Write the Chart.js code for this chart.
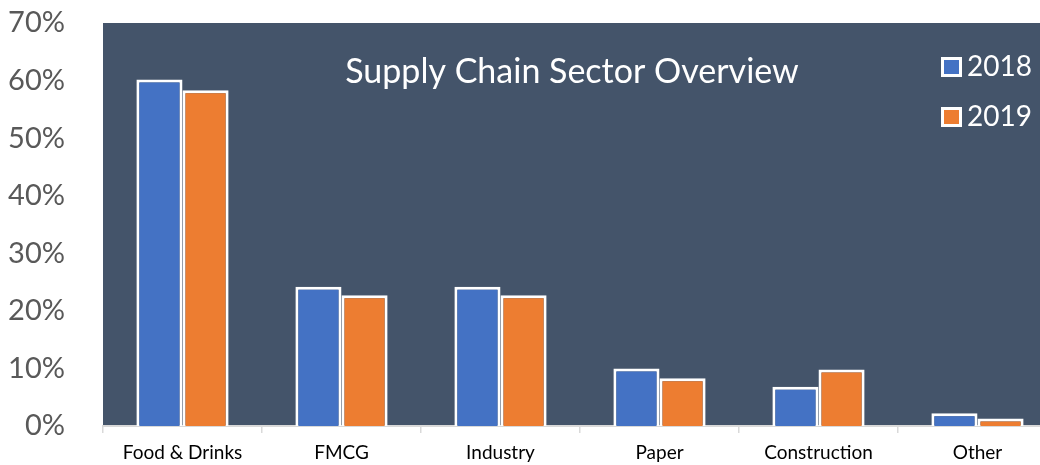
<!DOCTYPE html>
<html>
<head>
<meta charset="utf-8">
<title>Supply Chain Sector Overview</title>
<script src="https://cdn.jsdelivr.net/npm/chart.js@4.4.1/dist/chart.umd.min.js"></script>
<style>
  html, body { margin: 0; padding: 0; background: #ffffff; overflow: hidden; }
  #wrap { width: 1040px; height: 465px; overflow: hidden; }
</style>
</head>
<body>
<div id="wrap"><canvas id="chart" width="1057" height="465"></canvas></div>
<script>
// Chart data
const TITLE = 'Supply Chain Sector Overview';
const sectors = ['Food & Drinks', 'FMCG', 'Industry', 'Paper', 'Construction', 'Other'];
const share2018 = [60.2, 24.2, 24.2, 10.0, 6.8, 2.2];
const share2019 = [58.3, 22.7, 22.7, 8.3, 9.8, 1.3];
const yTicks = [0, 10, 20, 30, 40, 50, 60, 70];

const PLOT_BG = '#44546A';
const BLUE = '#4472C4';
const ORANGE = '#ED7D31';
const FONT = 'Lato';

// Fill the plot area and draw the in-plot title + legend
const plotDecor = {
  id: 'plotDecor',
  beforeDraw(c) {
    const { ctx, chartArea: a } = c;
    ctx.save();
    ctx.fillStyle = PLOT_BG;
    ctx.fillRect(a.left, a.top, a.right - a.left, a.bottom - a.top);
    ctx.restore();
  },
  afterDraw(c) {
    const { ctx } = c;
    ctx.save();
    ctx.fillStyle = '#ffffff';
    ctx.font = `34px ${FONT}`;
    ctx.textAlign = 'center';
    ctx.textBaseline = 'alphabetic';
    ctx.fillText(TITLE, 572, 83);

    ctx.font = `28px ${FONT}`;
    ctx.textAlign = 'left';
    c.data.datasets.forEach((ds, i) => {
      const top = 57 + i * 50;
      ctx.fillStyle = '#ffffff';
      ctx.fillRect(941, top, 21, 20);
      ctx.fillStyle = ds.backgroundColor;
      ctx.fillRect(944, top + 3, 15, 14);
      ctx.fillStyle = '#ffffff';
      ctx.fillText(ds.label, 967, top + 19);
    });
    ctx.restore();
  }
};

new Chart(document.getElementById('chart'), {
  type: 'bar',
  data: {
    labels: sectors,
    datasets: [
      { label: '2018', data: share2018, backgroundColor: BLUE },
      { label: '2019', data: share2019, backgroundColor: ORANGE }
    ]
  },
  options: {
    responsive: false,
    animation: false,
    devicePixelRatio: 1,
    layout: { padding: { top: 23, right: 0, left: 0, bottom: 0 } },
    datasets: {
      bar: {
        borderColor: '#ffffff',
        borderWidth: 3,
        categoryPercentage: 0.58,
        barPercentage: 1
      }
    },
    plugins: {
      legend: { display: false },
      title: { display: false },
      tooltip: { enabled: false }
    },
    scales: {
      x: {
        grid: {
          display: true,
          offset: true,
          drawOnChartArea: false,
          tickLength: 7,
          color: '#D9D9D9',
          lineWidth: 1.5
        },
        border: { display: true, color: '#D9D9D9', width: 2 },
        ticks: {
          color: '#000000',
          font: { family: FONT, size: 19 },
          padding: 8,
          maxRotation: 0
        },
        afterFit: (scale) => {
          scale.height = 39;
          scale.paddingLeft = 0;
          scale.paddingRight = 0;
        }
      },
      y: {
        min: 0,
        max: 70,
        grid: { display: false },
        border: { display: false },
        afterBuildTicks: (scale) => { scale.ticks = yTicks.map((v) => ({ value: v })); },
        ticks: {
          color: '#595959',
          font: { family: FONT, size: 29 },
          padding: 30,
          callback: (v) => `${v}%`
        },
        afterFit: (scale) => {
          scale.width = 103;
          scale.paddingTop = 0;
          scale.paddingBottom = 0;
        }
      }
    }
  },
  plugins: [plotDecor]
});
</script>
</body>
</html>
